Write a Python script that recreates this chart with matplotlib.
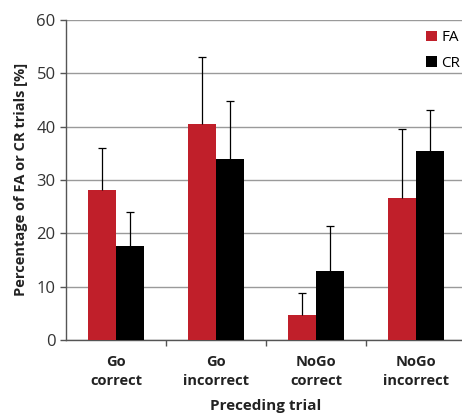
import matplotlib.pyplot as plt
import numpy as np

categories = ["Go\ncorrect", "Go\nincorrect", "NoGo\ncorrect", "NoGo\nincorrect"]
fa_vals = [28.1, 40.5, 4.7, 26.7]
fa_err = [7.8, 12.6, 4.0, 12.9]
cr_vals = [17.6, 33.9, 13.0, 35.4]
cr_err = [6.3, 10.9, 8.3, 7.7]

plt.rcParams['font.family'] = ['Open Sans', 'DejaVu Sans']

fig = plt.figure(figsize=(4.62, 4.15), dpi=100)
ax = fig.add_axes([0.143, 0.181, 0.866, 0.771])

x = np.arange(len(categories))
w = 0.28
red = '#c01f2a'
ekw = dict(ecolor='black', elinewidth=0.9, capsize=3, capthick=0.9)
b1 = ax.bar(x - w/2, fa_vals, w, color=red, label='FA', zorder=3,
            yerr=[np.zeros(4), fa_err], error_kw=ekw)
b2 = ax.bar(x + w/2, cr_vals, w, color='black', label='CR', zorder=3,
            yerr=[np.zeros(4), cr_err], error_kw=ekw)
# only upper error bars: hide the lower caps
for b in (b1, b2):
    caps = b.errorbar.lines[1]
    caps[0].set_visible(False)

ax.set_xlim(-0.5, 3.5)
ax.set_ylim(0, 60)
ax.set_yticks(range(0, 61, 10))
ax.yaxis.grid(True, color='#9a9a9a', linewidth=1.0, zorder=0)
ax.set_axisbelow(True)

for s in ['top', 'right']:
    ax.spines[s].set_visible(False)
for s in ['left', 'bottom']:
    ax.spines[s].set_color('#555555')
    ax.spines[s].set_linewidth(1.0)

ax.set_xticks(x)
ax.set_xticklabels(categories, fontweight='bold', fontsize=10.5, color='#222222', linespacing=1.45)
ax.set_xticks([0.5, 1.5, 2.5], minor=True)
ax.tick_params(axis='x', which='major', length=0, pad=11)
ax.tick_params(axis='x', which='minor', length=4, width=1, color='#555555', direction='out')
ax.tick_params(axis='y', length=4, width=1, color='#555555', labelsize=12, labelcolor='#333333')

ax.set_ylabel('Percentage of FA or CR trials [%]', fontweight='bold', fontsize=10.5,
              color='#222222', labelpad=6)
ax.set_xlabel('Preceding trial', fontweight='bold', fontsize=11, color='#222222', labelpad=8)

ax.legend(loc='upper right', bbox_to_anchor=(1.02, 1.01), frameon=False, fontsize=11,
          labelcolor='black', handlelength=0.7, handleheight=0.7, handletextpad=0.3,
          labelspacing=0.7)

fig.savefig('out.png', dpi=100)
